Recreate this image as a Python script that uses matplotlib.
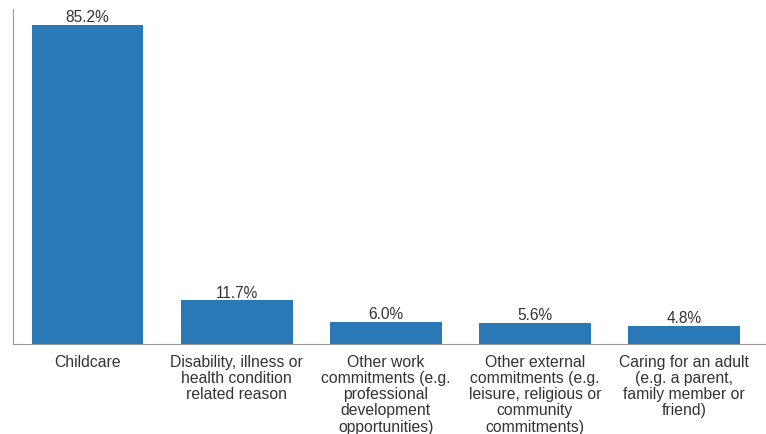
import matplotlib
matplotlib.use("Agg")
import matplotlib.pyplot as plt

categories = [
    "Childcare",
    "Disability, illness or\nhealth condition\nrelated reason",
    "Other work\ncommitments (e.g.\nprofessional\ndevelopment\nopportunities)",
    "Other external\ncommitments (e.g.\nleisure, religious or\ncommunity\ncommitments)",
    "Caring for an adult\n(e.g. a parent,\nfamily member or\nfriend)",
]
values = [85.2, 11.7, 6.0, 5.6, 4.8]

plt.rcParams["font.family"] = ["Liberation Sans", "DejaVu Sans"]

fig = plt.figure(figsize=(7.66, 4.35), dpi=100)
ax = fig.add_axes([13 / 766, 90 / 435, (766 - 13) / 766, 335 / 435])

x = list(range(len(values)))
bars = ax.bar(x, values, width=0.75, color="#2a78b6")

# Prozentwerte über den Balken
for rect, v in zip(bars, values):
    ax.annotate(f"{v:.1f}%", (rect.get_x() + rect.get_width() / 2, rect.get_height()),
                xytext=(0, 0.5), textcoords="offset points",
                ha="center", va="bottom", fontsize=11.2, color="#333333")

ax.set_xlim(-0.5, 4.55)
ax.set_ylim(0, 89.5)
ax.set_xticks(x)
ax.set_xticklabels(categories, fontsize=11.3, color="#333333", linespacing=1.1)
ax.tick_params(axis="x", length=0, pad=7)
ax.set_yticks([])

for side in ["top", "right"]:
    ax.spines[side].set_visible(False)
ax.spines["left"].set_color("#999999")
ax.spines["bottom"].set_color("#999999")

fig.savefig("out.png", dpi=100)
